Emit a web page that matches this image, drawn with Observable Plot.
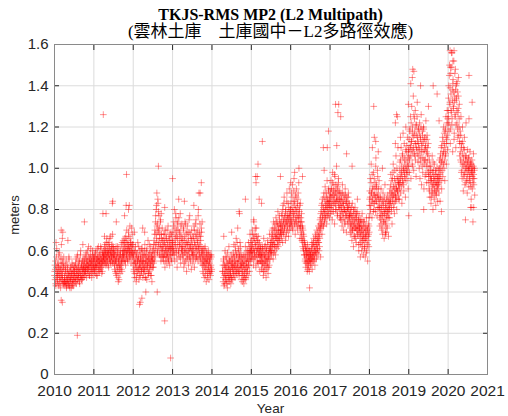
<!DOCTYPE html>
<html><head><meta charset="utf-8">
<script src="https://cdn.jsdelivr.net/npm/d3@7"></script>
<script src="https://cdn.jsdelivr.net/npm/@observablehq/plot@0.6"></script>
<style>
body{margin:0;background:#fff;}
#wrap{position:relative;width:508px;height:416px;overflow:hidden;}
#title{position:absolute;left:0;top:6px;width:541px;text-align:center;font-family:"Liberation Serif","Times New Roman",serif;font-weight:bold;font-size:16px;line-height:18px;color:#000;}
#subtitle{position:absolute;left:0;top:22px;width:541px;text-align:center;font-family:"Liberation Serif","Noto Sans CJK TC",serif;font-size:17px;line-height:20px;color:#000;}
#ylab{position:absolute;left:14px;top:215px;transform:translate(-50%,-50%) rotate(-90deg);font-family:"Liberation Sans",Arial,sans-serif;font-size:13px;color:#262626;white-space:nowrap;}
#xlab{position:absolute;left:0;top:401px;width:541px;text-align:center;font-family:"Liberation Sans",Arial,sans-serif;font-size:13.5px;color:#262626;}
svg{position:absolute;left:0;top:0;}
</style>
</head><body>
<div id="wrap">
<div id="title"></div>
<div id="subtitle"></div>
<div id="ylab"></div>
<div id="xlab"></div>
</div>
<script>
const titleText = "TKJS-RMS MP2 (L2 Multipath)";
const subtitleText = "(雲林土庫　土庫國中－L2多路徑效應)";
const xLabel = "Year";
const yLabel = "meters";
const xTicks = [2010,2011,2012,2013,2014,2015,2016,2017,2018,2019,2020,2021];
const yTicks = [0,0.2,0.4,0.6,0.8,1.0,1.2,1.4,1.6];
const yTickLabels = ["0","0.2","0.4","0.6","0.8","1.0","1.2","1.4","1.6"];

// RMS MP2 values (hundredths of a meter), read per year, in time order
const spanStart = [2010.0,2011.0,2012.0,2013.0,2014.27,2015.0,2016.0,2017.0,2018.0,2019.0,2020.0];
const spanEnd   = [2011.0,2012.0,2013.0,2014.0,2015.0,2016.0,2017.0,2018.0,2019.0,2020.0,2020.68];
const v2010 = [50,46,55,43,52,61,48,45,53,49,58,44,51,47,56,42,50,63,46,54,48,44,52,57,45,
47,43,51,45,55,42,49,46,53,44,48,57,43,50,45,47,52,42,49,54,44,46,51,43,48,
50,45,53,47,56,44,51,48,58,46,52,49,55,45,50,47,60,48,53,46,51,55,47,52,49,
54,48,57,50,52,59,47,55,51,53,49,62,52,56,48,54,58,50,53,47,55,60,51,57,52];
const v2011 = [55,51,58,49,53,60,52,56,48,57,54,62,50,55,53,59,51,56,61,52,54,50,58,55,57,
58,54,62,56,60,53,64,57,59,55,63,58,52,61,56,66,59,54,60,57,62,55,68,58,61,
56,60,53,58,50,55,62,48,57,52,59,47,54,61,51,56,49,58,53,63,55,50,60,57,65,
58,62,55,66,60,53,64,57,70,59,55,63,61,67,56,60,72,58,64,54,62,59,68,57,63];
const v2012 = [56,50,60,47,54,62,52,45,58,49,55,64,51,57,46,53,60,48,56,52,61,50,55,58,47,
54,49,58,52,63,47,55,51,60,46,57,53,65,49,56,50,59,54,48,62,52,57,45,55,60,
58,52,63,55,68,57,74,61,80,66,72,59,85,70,64,77,58,68,62,75,55,66,60,71,57,
62,55,68,58,64,52,70,60,57,66,54,63,59,72,56,61,65,53,68,58,62,55,67,60,64];
const v2013 = [65,58,72,61,80,55,68,63,76,59,70,52,66,74,60,85,57,69,63,78,54,67,61,73,58,
62,56,70,52,65,59,74,55,63,68,50,60,72,57,64,53,69,61,77,56,62,66,51,70,58,
60,54,66,58,72,52,63,68,56,75,61,57,70,64,55,80,62,67,59,73,57,65,54,69,60,
56,50,61,53,58,47,55,62,51,57,45,54,59,49,56,52,60,46,55,50,58,48,53,57,51];
const v2014 = [50,45,56,43,53,48,60,46,52,44,57,49,42,54,47,51,62,45,55,48,50,44,58,47,53,
52,46,57,49,63,51,55,47,60,53,66,49,58,52,71,55,50,61,48,57,64,52,59,46,54,
50,45,56,48,53,44,58,47,51,62,46,55,49,60,52,57,48,64,53,59,50,68,55,61,57];
const v2015 = [62,56,70,59,66,53,74,60,57,68,63,52,71,58,65,55,61,67,54,59,64,50,58,62,55,
57,51,62,54,60,48,66,53,58,50,63,56,47,61,55,52,65,49,57,60,53,68,56,62,59,
64,58,70,62,67,56,74,63,60,71,66,58,76,68,61,73,65,79,62,70,67,75,64,72,69,
72,66,78,70,64,82,74,68,86,71,77,65,80,73,69,88,75,70,83,67,76,90,72,79,74];
const v2016 = [80,72,88,75,92,70,84,78,95,73,82,68,87,76,90,74,81,70,85,77,93,72,79,66,83,
74,68,78,65,72,62,70,60,67,58,64,55,62,52,60,57,54,63,51,58,55,61,50,56,59,
53,60,56,64,51,58,62,55,66,57,60,53,68,59,63,56,70,61,65,58,72,64,68,62,75,
70,78,73,82,68,85,76,80,72,88,79,75,91,82,77,86,73,94,81,84,78,90,83,76,87];
const v2017 = [86,78,94,82,90,75,98,84,79,92,87,73,96,83,89,80,101,85,77,91,84,95,81,88,76,
82,75,88,79,85,72,92,78,83,70,87,80,74,90,77,84,69,86,79,81,73,88,76,83,78,
74,68,80,72,77,65,83,70,75,62,79,73,67,81,71,76,64,78,70,85,68,74,63,77,72,
69,63,75,67,72,60,78,65,70,58,74,66,62,71,57,68,64,76,60,70,55,67,73,62,69];
const v2018 = [85,78,95,82,102,88,76,110,90,83,98,80,115,87,93,79,105,84,91,77,99,86,108,81,94,
80,72,86,75,90,70,82,77,68,88,74,84,66,79,92,73,81,69,85,76,71,87,78,67,83,
82,76,90,84,97,79,88,73,95,86,102,81,91,78,99,87,84,106,90,80,96,89,110,85,93,
92,85,103,95,88,110,98,83,106,93,117,100,89,112,96,104,86,120,99,108,94,115,101,90,109];
const v2019 = [105,98,118,110,125,95,113,130,102,120,108,135,99,116,124,106,128,112,96,121,109,132,115,103,119,
110,100,122,95,115,105,126,92,112,118,98,108,120,90,104,114,96,110,123,101,93,116,107,99,112,
98,90,104,86,96,101,83,94,88,106,92,80,99,95,85,102,89,97,82,93,87,100,91,84,96,
92,88,100,95,84,105,98,110,90,103,115,96,108,120,100,112,94,118,106,125,102,114,128,109,121];
const v2020 = [125,140,118,150,132,112,146,128,156,121,138,108,143,130,152,117,135,126,148,110,133,141,122,137,115,129,144,120,131,106,
118,104,125,98,112,95,120,102,89,110,97,115,92,106,100,122,94,103,88,109,99,105,91,101,96,108,93,102,85,98,104,90,100,95,107,92,99,87];

// second reading of the same years, on the days in between
const w2010 = [48,53,51,44,47,57,50,46,49,54,52,43,48,59,45,51,47,53,49,56,46,50,54,44,52,
45,48,44,50,53,46,43,47,51,45,49,44,56,47,42,50,46,52,48,45,43,49,53,46,50,
47,52,49,45,54,51,48,57,46,50,53,47,49,55,44,51,58,48,52,46,54,50,47,56,51,
53,50,56,52,49,58,54,51,55,60,50,53,57,52,48,56,54,61,51,55,50,58,53,49,56];
const w2011 = [53,57,50,55,59,52,54,48,56,61,53,51,57,55,50,58,54,62,52,56,49,55,59,53,57,
60,56,59,63,55,58,61,54,66,57,60,53,59,64,56,62,58,55,67,60,57,63,54,59,62,
58,54,57,51,60,55,49,56,53,59,62,50,55,57,46,53,58,52,60,56,51,54,64,58,55,
60,57,64,59,62,55,67,61,58,65,60,56,63,69,59,62,57,66,61,64,58,71,60,63,59];
const w2012 = [53,58,51,55,49,60,54,57,47,52,59,55,50,56,62,51,54,48,57,53,59,50,55,61,52,
55,51,57,60,50,54,58,47,53,56,61,52,55,49,58,54,63,51,56,53,59,48,55,57,52,
56,61,54,65,59,70,63,77,68,82,64,73,60,69,79,62,71,66,58,74,63,57,68,61,65,
60,65,57,63,59,68,55,62,66,58,61,70,57,64,60,55,67,62,58,65,61,69,56,63,59];
const w2013 = [62,69,60,74,64,58,71,66,78,61,67,56,73,63,70,59,76,65,62,68,57,72,64,60,66,
60,65,58,71,62,54,67,61,73,59,64,56,69,63,58,66,60,75,57,63,68,55,61,65,59,
63,58,67,61,56,70,64,59,73,62,66,57,68,60,65,77,61,58,69,63,56,67,62,71,59,
58,53,60,55,49,57,52,61,54,48,56,59,51,55,47,58,53,50,57,54,49,56,52,58,50];
const w2014 = [50,53,47,55,49,44,52,57,48,51,46,54,50,59,45,53,48,56,51,47,55,49,52,46,54,
56,50,54,59,52,48,57,53,62,50,55,58,51,64,54,49,60,56,52,58,50,55,62,53,57,
52,48,54,50,57,46,53,49,55,51,58,47,54,52,56,50,60,55,53,58,62,56,59,64,60];
const w2015 = [60,65,58,63,68,61,56,66,59,64,71,57,62,67,60,54,65,61,58,63,57,60,55,61,58,
55,59,52,57,61,54,50,58,56,62,53,59,55,51,60,57,54,63,58,52,56,61,59,64,60,
62,66,60,68,64,71,65,59,69,63,73,67,62,70,66,74,63,68,72,65,70,77,66,73,68,
70,74,68,77,72,80,69,75,83,71,76,73,79,67,74,84,77,72,78,75,81,70,77,73,80];
const w2016 = [77,83,74,86,79,71,81,76,89,78,84,73,80,75,86,79,72,83,77,88,74,80,76,82,71,
72,76,69,74,66,71,64,68,61,65,58,63,56,60,54,58,61,55,59,53,57,52,60,55,58,
56,58,54,61,57,63,55,59,64,58,62,56,65,60,67,63,59,66,61,69,64,67,60,71,66,
73,76,71,79,74,83,77,72,81,86,78,74,84,80,76,88,82,79,85,77,83,89,80,84,81];
const w2017 = [84,88,81,90,86,79,93,87,82,89,85,97,83,88,80,92,86,84,90,78,87,93,82,89,85,
80,84,77,86,81,75,83,88,79,82,76,85,80,73,87,79,83,77,84,81,75,86,80,82,77,
76,71,78,73,69,81,74,70,77,72,80,67,75,71,78,66,73,76,70,79,72,68,75,71,74,
71,66,73,69,64,70,75,67,62,72,68,65,74,61,69,66,72,59,67,70,63,71,65,68,72];
const w2018 = [82,89,86,80,93,88,84,97,85,91,79,87,95,83,90,86,101,84,92,88,81,96,87,90,85,
83,76,81,78,85,73,80,77,84,71,79,82,75,86,78,74,83,80,77,72,81,79,84,76,80,
85,80,88,83,92,86,81,94,89,84,98,87,91,83,95,88,86,93,90,85,100,89,94,87,92,
95,90,99,93,104,97,91,101,96,107,94,99,92,105,98,102,95,109,100,97,111,103,98,106,101];
const w2019 = [108,114,104,119,111,106,122,113,109,117,101,115,110,126,107,118,112,104,121,116,110,125,113,107,119,
112,106,117,109,103,114,120,108,111,101,116,105,113,119,102,109,115,104,111,97,108,114,103,110,106,
96,93,101,89,97,94,99,86,95,91,98,88,103,92,96,90,94,87,99,93,89,97,92,95,90,
95,99,93,104,97,101,107,94,103,111,99,106,113,102,108,117,104,110,119,107,115,112,122,116,124];
const w2020 = [128,134,122,145,131,139,119,136,127,149,124,133,141,129,137,114,132,146,125,138,121,134,128,142,119,127,135,116,124,113,
112,108,116,103,110,99,107,113,101,105,96,109,102,98,104,93,106,100,97,103,95,101,99,105,94,100,97,103,91,99,102,96,98,93,101,97,95,100];

// isolated points [year, meters]
const outliers = [[2010.2,0.35],[2010.58,0.19],[2010.17,0.70],[2010.2,0.66],[2010.76,0.74],[2011.24,1.26],[2011.47,0.83],
[2011.83,0.97],[2011.9,0.82],[2011.88,0.80],[2012.18,0.35],[2012.22,0.37],[2012.64,1.01],[2012.6,0.88],[2012.8,0.26],
[2012.95,0.08],[2013.0,0.95],[2013.73,0.93],[2013.7,0.88],[2014.7,0.78],[2015.17,1.02],[2015.15,0.96],[2015.12,0.93],
[2015.2,0.85],[2015.28,1.13],[2015.74,0.96],[2016.1,0.98],[2016.48,0.42],[2016.83,1.10],[2016.96,1.18],[2017.14,1.31],
[2017.2,1.27],[2017.27,1.25],[2019.05,1.41],[2019.1,1.48],[2020.05,1.57],[2020.1,1.56],[2020.15,1.57],[2020.12,1.52],
[2020.6,0.81],[2020.63,0.74],[2020.65,0.81]];
// scattered points away from the main band [year, meters]
const scatter = [[2010.21,0.69],[2010.04,0.64],[2010.34,0.65],[2010.72,0.63],[2010.17,0.36],[2011.23,0.78],[2011.31,0.78],
[2011.27,0.67],[2011.48,0.84],[2011.57,0.74],[2011.78,0.77],[2011.82,0.82],[2011.62,0.45],[2012.03,0.69],[2012.24,0.71],
[2012.29,0.69],[2012.16,0.34],[2012.32,0.40],[2012.61,0.40],[2012.63,0.83],[2012.71,0.78],[2012.8,0.81],[2013.3,0.84],
[2013.54,0.82],[2013.67,0.88],[2013.75,0.74],[2014.3,0.67],[2014.5,0.69],[2014.69,0.79],[2014.85,0.85],[2015.06,0.75],
[2015.11,0.96],[2015.26,0.83],[2016.0,0.93],[2016.21,1.0],[2016.3,0.96],[2016.42,0.50],[2016.76,0.57],[2016.85,0.99],
[2016.93,1.10],[2017.17,1.11],[2017.22,1.31],[2017.42,1.07],[2017.56,1.01],[2017.73,0.60],[2017.77,0.57],[2017.99,0.76],
[2018.11,1.30],[2018.16,1.13],[2018.33,1.0],[2018.41,0.68],[2018.41,0.69],[2018.66,1.22],[2018.69,1.26],[2018.66,1.12],
[2018.71,1.25],[2018.79,1.15],[2018.99,1.31],[2019.0,0.77],[2019.09,1.44],[2019.13,1.47],[2019.3,1.40],[2019.38,0.80],
[2019.5,1.30],[2019.62,1.40],[2019.72,1.36],[2019.77,1.23],[2019.83,0.79],[2020.06,1.49],[2020.2,1.40],[2020.44,0.75],
[2020.53,1.45],[2020.53,1.24],[2020.57,0.81],[2020.61,1.32]];

const firstPass = [v2010,v2011,v2012,v2013,v2014,v2015,v2016,v2017,v2018,v2019,v2020];
const secondPass = [w2010,w2011,w2012,w2013,w2014,w2015,w2016,w2017,w2018,w2019,w2020];
const points = [];
firstPass.forEach((vals, k) => {
  const a = spanStart[k], b = spanEnd[k];
  vals.forEach((v, i) => points.push({t: a + (i + 0.5) * (b - a) / vals.length, v: v / 100}));
});
secondPass.forEach((vals, k) => {
  const a = spanStart[k], b = spanEnd[k];
  vals.forEach((v, i) => points.push({t: a + i * (b - a) / vals.length, v: v / 100}));
});
outliers.concat(scatter).forEach(([t, v]) => points.push({t, v}));

document.getElementById("title").textContent = titleText;
document.getElementById("subtitle").textContent = subtitleText;
document.getElementById("xlab").textContent = xLabel;
document.getElementById("ylab").textContent = yLabel;

const fmtY = d => yTickLabels[yTicks.findIndex(t => Math.abs(t - d) < 1e-9)];
const chart = Plot.plot({
  width: 508, height: 416,
  marginTop: 44, marginBottom: 42, marginLeft: 54, marginRight: 21,
  style: {fontFamily: "'Liberation Sans', Arial, sans-serif", fontSize: "15px", color: "#262626", background: "white"},
  x: {domain: [2010, 2021]},
  y: {domain: [0, 1.6]},
  marks: [
    Plot.gridX(xTicks, {stroke: "#dcdcdc", strokeOpacity: 1}),
    Plot.gridY(yTicks, {stroke: "#dcdcdc", strokeOpacity: 1}),
    Plot.dot(points, {x: "t", y: "v", symbol: "plus", r: 2.3, fill: "none", stroke: "#ff0000", strokeWidth: 0.8, strokeOpacity: 0.55}),
    Plot.axisX(xTicks, {anchor: "bottom", tickSize: -5, tickFormat: () => "", label: null, stroke: "#262626"}),
    Plot.axisX(xTicks, {anchor: "top", tickSize: -5, tickFormat: () => "", label: null, stroke: "#262626"}),
    Plot.axisY(yTicks, {anchor: "left", tickSize: -5, tickFormat: () => "", label: null, stroke: "#262626"}),
    Plot.axisY(yTicks, {anchor: "right", tickSize: -5, tickFormat: () => "", label: null, stroke: "#262626"}),
    Plot.axisX(xTicks, {anchor: "bottom", tickSize: 0, tickPadding: 10, tickFormat: d => String(d), label: null, fontSize: 15.5}),
    Plot.axisY(yTicks, {anchor: "left", tickSize: 0, tickPadding: 6, tickFormat: fmtY, label: null, fontSize: 15}),
    Plot.frame({stroke: "#8a8a8a"})
  ]
});
document.getElementById("wrap").prepend(chart);
</script>
</body></html>
